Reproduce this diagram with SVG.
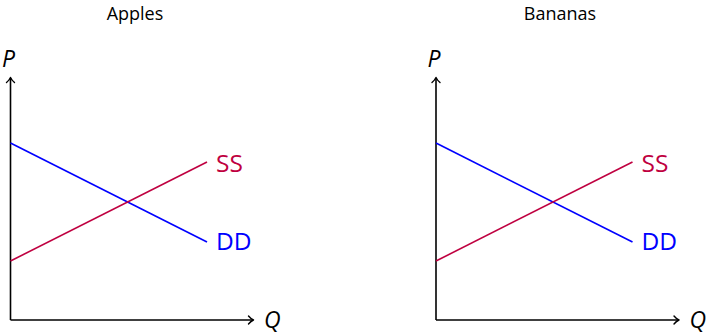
<svg xmlns="http://www.w3.org/2000/svg" width="709" height="335" viewBox="0 0 709 335">
<style>
.title{font-family:"Open Sans",sans-serif;font-size:18px;fill:#000;text-anchor:middle}
.lab{font-family:"Open Sans",sans-serif;font-size:24.5px}
.ax{font-family:"Open Sans",sans-serif;font-size:23px;font-style:italic;fill:#000}
.axis{stroke:#000;stroke-width:1.6;fill:none}
.tip{stroke:#000;stroke-width:1.4;fill:none;stroke-linecap:round;stroke-linejoin:round}
.ss{stroke:#bf0040;stroke-width:1.6;fill:none}
.dd{stroke:#0000ff;stroke-width:1.6;fill:none}
</style>
<defs>
<g id="chart">
<path class="axis" d="M10.5,320 L10.5,78.5"/>
<path class="axis" d="M10.5,320 L252.5,320"/>
<path class="tip" d="M6.5,82.5 Q9.5,80 10.5,77.5 Q11.5,80 14.5,82.5"/>
<path class="tip" d="M248.5,316 Q251,319 253.5,320 Q251,321 248.5,324"/>
<path class="dd" d="M10.5,143 L207,242"/>
<path class="ss" d="M10.5,261 L207,162"/>
<text class="ax" x="2" y="67">P</text>
<text class="ax" x="264" y="328">Q</text>
<text class="lab" x="216" y="172" fill="#bf0040">SS</text>
<text class="lab" x="216" y="250" fill="#0000ff">DD</text>
</g>
</defs>
<g id="apples">
<text class="title" x="135" y="20">Apples</text>
<use href="#chart"/>
</g>
<g id="bananas">
<text class="title" x="560" y="20">Bananas</text>
<use href="#chart" transform="translate(425.5,0)"/>
</g>
</svg>
